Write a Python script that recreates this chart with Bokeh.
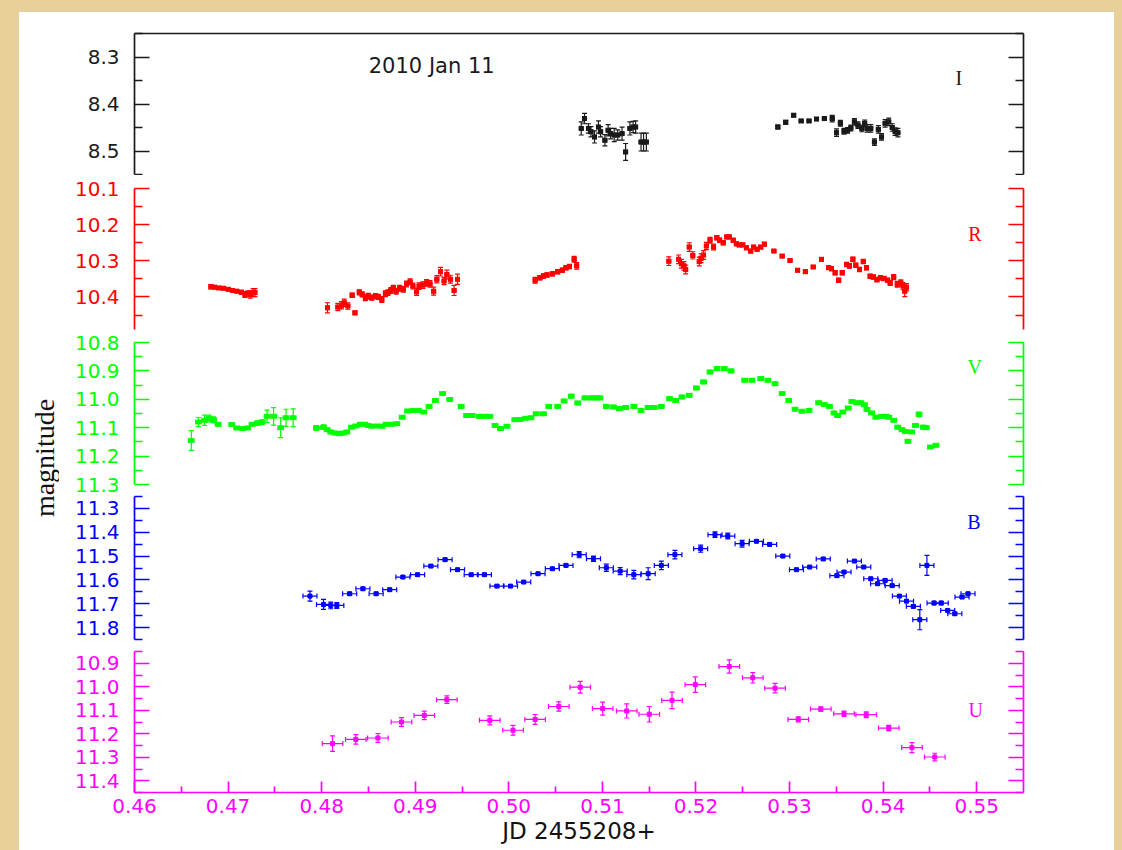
import math
from bokeh.plotting import figure
from bokeh.layouts import column, row
from bokeh.models import (Range1d, LinearAxis, FixedTicker, Whisker, TeeHead,
                          ColumnDataSource, Label, Spacer, NumeralTickFormatter,
                          CustomJSTickFormatter)
from bokeh.embed import file_html
from bokeh.resources import INLINE

# ---------------- data (JD - 2455208, magnitude, 1-sigma error) ----------------
I_jd = [0.50774, 0.50809, 0.50851, 0.50878, 0.50916, 0.50958, 0.50981, 0.51027, 0.51061, 0.51088,
        0.51126, 0.51164, 0.51210, 0.51248, 0.51294, 0.51328, 0.51355, 0.51413, 0.51440, 0.51470,
        0.52875, 0.52959, 0.53044, 0.53124, 0.53208, 0.53288, 0.53372, 0.53456, 0.53502, 0.53543,
        0.53582, 0.53620, 0.53655, 0.53693, 0.53731, 0.53773, 0.53803, 0.53830, 0.53868, 0.53907,
        0.53949, 0.53983, 0.54021, 0.54060, 0.54097, 0.54128, 0.54158]
I_mag = [8.452, 8.431, 8.452, 8.459, 8.470, 8.449, 8.459, 8.477, 8.456, 8.463,
         8.466, 8.466, 8.463, 8.502, 8.452, 8.449, 8.449, 8.481, 8.481, 8.481,
         8.449, 8.439, 8.424, 8.436, 8.436, 8.432, 8.431, 8.431, 8.461, 8.441,
         8.458, 8.456, 8.451, 8.438, 8.445, 8.452, 8.441, 8.452, 8.452, 8.481,
         8.454, 8.470, 8.441, 8.438, 8.450, 8.459, 8.461]
I_err = [0.014, 0.011, 0.010, 0.011, 0.013, 0.013, 0.011, 0.012, 0.012, 0.011,
         0.014, 0.011, 0.014, 0.018, 0.014, 0.012, 0.013, 0.019, 0.019, 0.019,
         0.004, 0.004, 0.003, 0.002, 0.002, 0.003, 0.003, 0.007, 0.008, 0.006,
         0.006, 0.006, 0.006, 0.007, 0.007, 0.007, 0.007, 0.008, 0.008, 0.007,
         0.008, 0.007, 0.008, 0.008, 0.008, 0.008, 0.009]

R_jd = [0.46817, 0.46856, 0.46901, 0.46951, 0.47001, 0.47046, 0.47092, 0.47142, 0.47180, 0.47211,
        0.47237, 0.47268, 0.47287,
        0.48062, 0.48173, 0.48212, 0.48242, 0.48280, 0.48326, 0.48356, 0.48402, 0.48433, 0.48467,
        0.48498, 0.48536, 0.48574, 0.48605, 0.48643, 0.48681, 0.48708, 0.48739, 0.48766, 0.48796,
        0.48834, 0.48873, 0.48907, 0.48945, 0.48975, 0.49014, 0.49041, 0.49082, 0.49121, 0.49158,
        0.49197, 0.49231, 0.49270, 0.49308, 0.49338, 0.49376, 0.49415, 0.49452,
        0.50281, 0.50332, 0.50370, 0.50408, 0.50465, 0.50522, 0.50572, 0.50611, 0.50648, 0.50698,
        0.50725,
        0.51710, 0.51814, 0.51844, 0.51871, 0.51890, 0.51928, 0.51966, 0.52035, 0.52055, 0.52081,
        0.52111, 0.52150, 0.52188, 0.52223, 0.52253, 0.52291, 0.52329, 0.52356, 0.52398, 0.52432,
        0.52463, 0.52500, 0.52539, 0.52585, 0.52616, 0.52653, 0.52692, 0.52731, 0.52833, 0.52921,
        0.53005, 0.53086, 0.53169, 0.53253, 0.53341, 0.53418, 0.53448, 0.53487, 0.53525, 0.53563,
        0.53609, 0.53640, 0.53677, 0.53708, 0.53747, 0.53788, 0.53822, 0.53861, 0.53895, 0.53934,
        0.53971, 0.54010, 0.54048, 0.54075, 0.54113, 0.54151, 0.54189, 0.54212, 0.54231, 0.54250]
R_mag = [10.372, 10.373, 10.375, 10.376, 10.379, 10.382, 10.384, 10.387, 10.393, 10.391,
         10.393, 10.388, 10.388,
         10.430, 10.428, 10.423, 10.416, 10.425, 10.395, 10.444, 10.387, 10.393, 10.402,
         10.398, 10.402, 10.398, 10.400, 10.407, 10.391, 10.388, 10.382, 10.375, 10.384,
         10.376, 10.379, 10.364, 10.358, 10.370, 10.386, 10.370, 10.367, 10.361, 10.364,
         10.384, 10.351, 10.330, 10.356, 10.338, 10.351, 10.382, 10.351,
         10.354, 10.347, 10.342, 10.339, 10.336, 10.330, 10.326, 10.319, 10.316, 10.296,
         10.314,
         10.301, 10.296, 10.308, 10.314, 10.324, 10.262, 10.285, 10.302, 10.293, 10.284,
         10.259, 10.243, 10.262, 10.236, 10.243, 10.250, 10.234, 10.234, 10.243, 10.253,
         10.256, 10.256, 10.264, 10.273, 10.262, 10.268, 10.262, 10.254, 10.273, 10.287,
         10.299, 10.326, 10.330, 10.317, 10.296, 10.319, 10.322, 10.333, 10.354, 10.333,
         10.310, 10.314, 10.296, 10.312, 10.324, 10.302, 10.319, 10.343, 10.345, 10.352,
         10.347, 10.349, 10.354, 10.361, 10.345, 10.365, 10.361, 10.370, 10.384, 10.373]
R_err = [0.006, 0.004, 0.004, 0.003, 0.003, 0.003, 0.004, 0.005, 0.008, 0.008,
         0.010, 0.011, 0.011,
         0.014, 0.010, 0.010, 0.010, 0.009, 0.006, 0.005, 0.007, 0.007, 0.008,
         0.008, 0.007, 0.007, 0.007, 0.008, 0.008, 0.008, 0.008, 0.007, 0.008,
         0.008, 0.008, 0.008, 0.008, 0.008, 0.010, 0.009, 0.009, 0.009, 0.009,
         0.011, 0.010, 0.012, 0.010, 0.012, 0.011, 0.014, 0.014,
         0.008, 0.006, 0.006, 0.006, 0.006, 0.006, 0.006, 0.006, 0.006, 0.008,
         0.009,
         0.012, 0.012, 0.012, 0.012, 0.012, 0.012, 0.010, 0.012, 0.012, 0.012,
         0.010, 0.008, 0.008, 0.006, 0.006, 0.006, 0.005, 0.005, 0.005, 0.005,
         0.005, 0.005, 0.005, 0.005, 0.005, 0.005, 0.005, 0.005, 0.004, 0.004,
         0.004, 0.004, 0.004, 0.004, 0.004, 0.005, 0.005, 0.006, 0.006, 0.006,
         0.006, 0.006, 0.006, 0.006, 0.006, 0.006, 0.006, 0.006, 0.006, 0.006,
         0.006, 0.006, 0.006, 0.007, 0.007, 0.008, 0.008, 0.010, 0.015, 0.010]

V_jd = [0.46607, 0.46683, 0.46749, 0.46798, 0.46844, 0.46894, 0.47039, 0.47092, 0.47153, 0.47207,
        0.47257, 0.47313, 0.47364, 0.47417, 0.47486, 0.47562, 0.47619, 0.47696, 0.47944, 0.48020,
        0.48059, 0.48097, 0.48147, 0.48193, 0.48231, 0.48268, 0.48319, 0.48365, 0.48414, 0.48460,
        0.48498, 0.48536, 0.48594, 0.48643, 0.48689, 0.48747, 0.48803, 0.48861, 0.48918, 0.48975,
        0.49033, 0.49090, 0.49148, 0.49216, 0.49292, 0.49369, 0.49491, 0.49549, 0.49605, 0.49682,
        0.49739, 0.49797, 0.49853, 0.49911, 0.49980, 0.50064, 0.50121, 0.50179, 0.50236, 0.50293,
        0.50370, 0.50427, 0.50522,
        0.50591, 0.50667, 0.50736, 0.50813, 0.50878, 0.50935, 0.50973, 0.51042, 0.51119, 0.51183,
        0.51248, 0.51336, 0.51413, 0.51489, 0.51554, 0.51630, 0.51718, 0.51783, 0.51851, 0.51928,
        0.52004, 0.52081, 0.52150, 0.52226, 0.52303, 0.52375, 0.52520, 0.52597, 0.52692, 0.52768,
        0.52845, 0.52921, 0.52991, 0.53059, 0.53132, 0.53208, 0.53311, 0.53372, 0.53426, 0.53475,
        0.53513, 0.53570, 0.53628, 0.53666, 0.53716, 0.53761, 0.53800, 0.53827, 0.53876, 0.53922,
        0.53980, 0.54029, 0.54060, 0.54113, 0.54155, 0.54201, 0.54238, 0.54265, 0.54304, 0.54346,
        0.54384, 0.54430, 0.54461, 0.54506, 0.54564]
V_mag = [11.145, 11.080, 11.074, 11.068, 11.072, 11.088, 11.089, 11.101, 11.103, 11.101,
         11.088, 11.084, 11.080, 11.060, 11.060, 11.100, 11.065, 11.065, 11.101, 11.098,
         11.107, 11.115, 11.119, 11.121, 11.119, 11.115, 11.098, 11.094, 11.088, 11.088,
         11.092, 11.095, 11.094, 11.095, 11.088, 11.088, 11.086, 11.063, 11.041, 11.039,
         11.039, 11.045, 11.025, 11.004, 10.980, 11.001, 11.025, 11.057, 11.057, 11.060,
         11.060, 11.060, 11.092, 11.103, 11.095, 11.072, 11.071, 11.067, 11.065, 11.051,
         11.051, 11.025, 11.025,
         11.006, 10.989, 11.013, 10.995, 10.995, 10.995, 10.995, 11.025, 11.027, 11.033,
         11.029, 11.025, 11.039, 11.029, 11.029, 11.025, 10.998, 11.004, 10.992, 10.986,
         10.960, 10.939, 10.904, 10.892, 10.892, 10.900, 10.933, 10.933, 10.927, 10.933,
         10.945, 10.980, 11.004, 11.035, 11.042, 11.039, 11.012, 11.018, 11.025, 11.048,
         11.057, 11.045, 11.031, 11.008, 11.012, 11.012, 11.019, 11.036, 11.048, 11.063,
         11.060, 11.060, 11.063, 11.074, 11.098, 11.107, 11.113, 11.148, 11.115, 11.092,
         11.053, 11.098, 11.100, 11.168, 11.162]
V_err = [0.035, 0.016, 0.018, 0.012, 0.010, 0.006, 0.004, 0.004, 0.004, 0.004,
         0.006, 0.008, 0.008, 0.022, 0.031, 0.035, 0.030, 0.031, 0.008, 0.008,
         0.006, 0.006, 0.006, 0.006, 0.005, 0.005, 0.004, 0.004, 0.004, 0.004,
         0.004, 0.004, 0.004, 0.004, 0.004, 0.004, 0.004, 0.004, 0.004, 0.004,
         0.004, 0.004, 0.004, 0.004, 0.004, 0.004, 0.004, 0.004, 0.004, 0.004,
         0.004, 0.004, 0.004, 0.004, 0.004, 0.004, 0.004, 0.004, 0.004, 0.004,
         0.004, 0.004, 0.004,
         0.006, 0.006, 0.006, 0.006, 0.006, 0.006, 0.006, 0.006, 0.006, 0.006,
         0.006, 0.006, 0.006, 0.006, 0.006, 0.006, 0.006, 0.006, 0.006, 0.006,
         0.006, 0.006, 0.006, 0.006, 0.006, 0.006, 0.004, 0.004, 0.004, 0.004,
         0.004, 0.004, 0.004, 0.004, 0.004, 0.004, 0.004, 0.004, 0.004, 0.004,
         0.004, 0.004, 0.004, 0.004, 0.004, 0.004, 0.004, 0.004, 0.004, 0.004,
         0.004, 0.004, 0.004, 0.004, 0.004, 0.004, 0.004, 0.004, 0.004, 0.004,
         0.008, 0.006, 0.006, 0.004, 0.004]

B_jd = [0.47875, 0.48020, 0.48097, 0.48162, 0.48299, 0.48441, 0.48582, 0.48727, 0.48868, 0.49025,
        0.49167, 0.49319, 0.49452, 0.49598, 0.49739, 0.49873, 0.50018, 0.50159, 0.50312, 0.50465,
        0.50611, 0.50752, 0.50905, 0.51042, 0.51190, 0.51336, 0.51489, 0.51630, 0.51775, 0.52050,
        0.52203, 0.52340, 0.52493, 0.52646, 0.52787, 0.52928, 0.53074, 0.53215, 0.53360, 0.53506,
        0.53582, 0.53693, 0.53793, 0.53868, 0.53941, 0.54021, 0.54097, 0.54174, 0.54250, 0.54323,
        0.54392, 0.54468, 0.54544, 0.54621, 0.54690, 0.54766, 0.54843, 0.54907]
B_mag = [11.668, 11.703, 11.707, 11.707, 11.658, 11.637, 11.658, 11.641, 11.588, 11.578,
         11.542, 11.515, 11.557, 11.578, 11.578, 11.626, 11.626, 11.609, 11.574, 11.553,
         11.539, 11.494, 11.511, 11.549, 11.563, 11.578, 11.574, 11.539, 11.494, 11.469,
         11.410, 11.416, 11.448, 11.438, 11.451, 11.500, 11.557, 11.546, 11.512, 11.582,
         11.567, 11.521, 11.546, 11.595, 11.616, 11.602, 11.624, 11.668, 11.689, 11.711,
         11.767, 11.539, 11.697, 11.697, 11.728, 11.742, 11.672, 11.658]
B_err = [0.021, 0.021, 0.014, 0.012, 0.006, 0.006, 0.006, 0.006, 0.005, 0.005,
         0.005, 0.005, 0.005, 0.005, 0.005, 0.005, 0.005, 0.005, 0.005, 0.005,
         0.005, 0.013, 0.011, 0.015, 0.015, 0.018, 0.025, 0.018, 0.018, 0.015,
         0.012, 0.012, 0.014, 0.005, 0.005, 0.005, 0.005, 0.005, 0.005, 0.005,
         0.005, 0.005, 0.005, 0.005, 0.005, 0.005, 0.005, 0.005, 0.005, 0.006,
         0.042, 0.042, 0.007, 0.007, 0.005, 0.006, 0.006, 0.006]

U_jd = [0.48116, 0.48365, 0.48601, 0.48853, 0.49097, 0.49338, 0.49797, 0.50045, 0.50281, 0.50534,
        0.50763, 0.51003, 0.51260, 0.51501, 0.51744, 0.51993, 0.52356, 0.52607, 0.52845, 0.53093,
        0.53334, 0.53582, 0.53819, 0.54060, 0.54308, 0.54552]
U_mag = [11.242, 11.224, 11.218, 11.150, 11.122, 11.055, 11.143, 11.185, 11.139, 11.084,
         11.002, 11.093, 11.103, 11.117, 11.058, 10.991, 10.914, 10.962, 11.006, 11.139,
         11.095, 11.115, 11.119, 11.176, 11.259, 11.299]
U_err = [0.033, 0.020, 0.019, 0.019, 0.018, 0.016, 0.019, 0.021, 0.021, 0.020,
         0.025, 0.028, 0.030, 0.033, 0.035, 0.033, 0.028, 0.022, 0.020, 0.011,
         0.009, 0.011, 0.012, 0.012, 0.021, 0.016]

# half-width of the time bins (x error bars)
I_xerr, R_xerr, V_xerr, B_xerr, U_xerr = 0.0002, 0.0002, 0.0003, 0.00075, 0.0011

# axis ticks / limits
X_LIM = (0.46, 0.555)
X_major = [0.46, 0.47, 0.48, 0.49, 0.50, 0.51, 0.52, 0.53, 0.54, 0.55]
X_minor = [0.465, 0.475, 0.485, 0.495, 0.505, 0.515, 0.525, 0.535, 0.545]
I_lim, I_major, I_minor = (8.25, 8.55), [8.3, 8.4, 8.5], [8.25, 8.35, 8.45, 8.55]
R_lim, R_major, R_minor = (10.1, 10.49), [10.1, 10.2, 10.3, 10.4], [10.15, 10.25, 10.35, 10.45]
V_lim, V_major, V_minor = (10.8, 11.3), [10.8, 10.9, 11.0, 11.1, 11.2, 11.3], [10.85, 10.95, 11.05, 11.15, 11.25]
B_lim, B_major, B_minor = (11.25, 11.85), [11.3, 11.4, 11.5, 11.6, 11.7, 11.8], [11.25, 11.35, 11.45, 11.55, 11.65, 11.75, 11.85]
U_lim, U_major, U_minor = (10.85, 11.45), [10.9, 11.0, 11.1, 11.2, 11.3, 11.4], [10.85, 10.95, 11.05, 11.15, 11.25, 11.35, 11.45]

X_TITLE = "JD 2455208+"
Y_TITLE = "magnitude"
DATE_TEXT = "2010 Jan 11"

TICK_FONT = "DejaVu Sans"
SERIF = "Liberation Serif"
PARCHMENT = "#e7d09a"
FIG_W = 1055
BORDER_L, BORDER_R = 75, 91


def style_axis(ax, color, major_in, minor_in, labels=True, fmt="0.0", standoff=15):
    ax.axis_line_color = color
    ax.axis_line_width = 1.7
    ax.major_tick_line_color = color
    ax.minor_tick_line_color = color
    ax.major_tick_line_width = 1.7
    ax.minor_tick_line_width = 1.7
    ax.major_tick_in = major_in
    ax.major_tick_out = 0
    ax.minor_tick_in = minor_in
    ax.minor_tick_out = 0
    if labels:
        ax.formatter = NumeralTickFormatter(format=fmt)
        ax.major_label_text_color = color
        ax.major_label_text_font = TICK_FONT
        ax.major_label_text_font_size = "20px"
        ax.major_label_standoff = standoff
    else:
        ax.formatter = CustomJSTickFormatter(code="return ''")
        ax.major_label_standoff = 0


def bare_figure(width, height, xr, yr, **kw):
    p = figure(width=width, height=height, x_range=xr, y_range=yr,
               output_backend="svg", toolbar_location=None,
               x_axis_location=None, y_axis_location=None,
               outline_line_color=None, background_fill_color=None,
               border_fill_color=None, **kw)
    p.grid.visible = False
    return p


def panel(jd, mag, err, xerr, color, lim, majors, minors, height, top, bottom,
          letter, letter_xy, first=False, last=False):
    p = bare_figure(FIG_W, height, Range1d(*X_LIM), Range1d(lim[1], lim[0]),
                    min_border_left=BORDER_L, min_border_right=BORDER_R,
                    min_border_top=top, min_border_bottom=bottom)

    left = LinearAxis(ticker=FixedTicker(ticks=majors, minor_ticks=minors))
    style_axis(left, color, 15, 8, labels=True)
    p.add_layout(left, "left")
    right = LinearAxis(ticker=FixedTicker(ticks=majors, minor_ticks=minors))
    style_axis(right, color, 15, 8, labels=False)
    p.add_layout(right, "right")

    if first:
        topax = LinearAxis(ticker=FixedTicker(ticks=[], minor_ticks=[]))
        style_axis(topax, color, 0, 0, labels=False)
        p.add_layout(topax, "above")
    if last:
        bot = LinearAxis(ticker=FixedTicker(ticks=X_major, minor_ticks=X_minor))
        style_axis(bot, color, 11, 6, labels=True, fmt="0.00", standoff=6)
        bot.axis_label = X_TITLE
        bot.axis_label_text_font = TICK_FONT
        bot.axis_label_text_font_style = "normal"
        bot.axis_label_text_font_size = "23px"
        bot.axis_label_text_color = "#111111"
        bot.axis_label_standoff = 2
        p.add_layout(bot, "below")

    src = ColumnDataSource(dict(
        x=jd, y=mag,
        lo=[m - e for m, e in zip(mag, err)],
        hi=[m + e for m, e in zip(mag, err)],
        xl=[t - xerr for t in jd],
        xh=[t + xerr for t in jd],
    ))
    for dim, base, lo, hi in (("height", "x", "lo", "hi"), ("width", "y", "xl", "xh")):
        p.add_layout(Whisker(source=src, base=base, lower=lo, upper=hi, dimension=dim,
                             line_color=color, line_width=1.2,
                             lower_head=TeeHead(size=5, line_color=color, line_width=1.2),
                             upper_head=TeeHead(size=5, line_color=color, line_width=1.2)))
    p.scatter("x", "y", source=src, marker="square", size=4, color=color)

    p.add_layout(Label(x=letter_xy[0], y=letter_xy[1], text=letter, text_color=color,
                       text_font=SERIF, text_font_size="20px",
                       text_align="center", text_baseline="middle"))
    return p


# canvas heights / borders chosen so that the frames sit where the reference has them
pI = panel(I_jd, I_mag, I_err, I_xerr, "#1a1a1a", I_lim, I_major, I_minor,
           163, 21, 1, "I", (0.5481, 8.345), first=True)
pI.add_layout(Label(x=0.49176, y=8.3196, text=DATE_TEXT, text_color="#1a1a1a",
                    text_font=TICK_FONT, text_font_size="21px",
                    text_align="center", text_baseline="middle"))
pR = panel(R_jd, R_mag, R_err, R_xerr, "#ff0000", R_lim, R_major, R_minor,
           155, 13, 1, "R", (0.5498, 10.226))
pV = panel(V_jd, V_mag, V_err, V_xerr, "#00ff00", V_lim, V_major, V_minor,
           165, 12, 11, "V", (0.5498, 10.886))
pB = panel(B_jd, B_mag, B_err, B_xerr, "#0000ff", B_lim, B_major, B_minor,
           150, 1, 6, "B", (0.5497, 11.358))
pU = panel(U_jd, U_mag, U_err, U_xerr, "#ff00ff", U_lim, U_major, U_minor,
           205, 6, 58, "U", (0.5499, 11.100), last=True)

# vertical axis title in its own narrow strip
lab = bare_figure(40, 838, Range1d(0, 40), Range1d(0, 838), min_border=0)
lab.add_layout(Label(x=24.6, y=392.5, text=Y_TITLE, angle=math.pi / 2,
                     text_font=SERIF, text_font_size="28px", text_color="#111111",
                     text_align="center", text_baseline="middle"))

white = row(lab, column(pI, pR, pV, pB, pU, spacing=0), spacing=0,
            styles={"background-color": "white"})
root = column(
    Spacer(width=1122, height=12),
    row(Spacer(width=19, height=838), white, Spacer(width=8, height=838), spacing=0),
    spacing=0,
    styles={"background-color": PARCHMENT},
)

open("out.html", "w").write(file_html(root, INLINE))
